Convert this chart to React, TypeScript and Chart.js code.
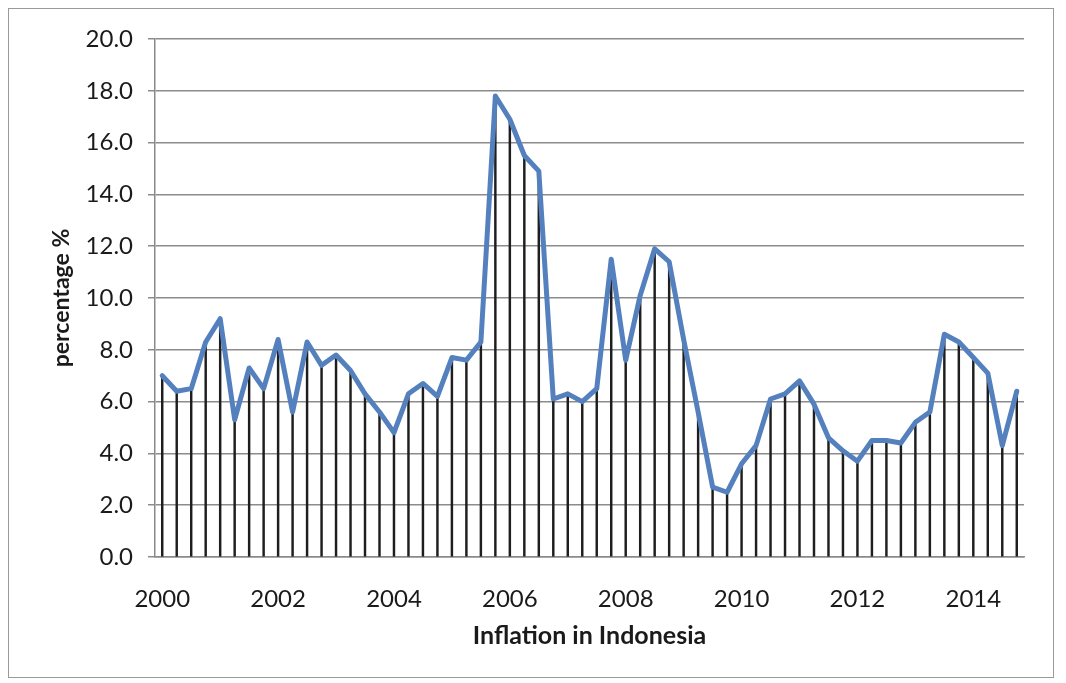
import React, { useEffect, useRef } from 'react';
import { Chart, registerables } from 'chart.js';

Chart.register(...registerables);

const years = ['2000', '2001', '2002', '2003', '2004', '2005', '2006', '2007', '2008', '2009', '2010', '2011', '2012', '2013', '2014'];
const quarterNames = ['Q1', 'Q2', 'Q3', 'Q4'];
const categories = years.flatMap((y) => quarterNames.map((q) => `${y} ${q}`));
const xTickLabels = ['2000', '2002', '2004', '2006', '2008', '2010', '2012', '2014'];

const inflation = [
  7.0, 6.4, 6.5, 8.3, 9.2, 5.3, 7.3, 6.5, 8.4, 5.6,
  8.3, 7.4, 7.8, 7.2, 6.3, 5.6, 4.8, 6.3, 6.7, 6.2,
  7.7, 7.6, 8.3, 17.8, 16.9, 15.5, 14.9, 6.1, 6.3, 6.0,
  6.5, 11.5, 7.6, 10.1, 11.9, 11.4, 8.4, 5.6, 2.7, 2.5,
  3.6, 4.3, 6.1, 6.3, 6.8, 5.9, 4.6, 4.1, 3.7, 4.5,
  4.5, 4.4, 5.2, 5.6, 8.6, 8.3, 7.7, 7.1, 4.3, 6.4,
];

const yMin = 0;
const yMax = 20;
const yStep = 2;

const xTitle = 'Inflation in Indonesia';
const yTitle = 'percentage %';

export default function App() {
  const canvasRef = useRef<HTMLCanvasElement | null>(null);

  useEffect(() => {
    const canvas = canvasRef.current;
    if (!canvas) return;
    const chart = new Chart(canvas, {
      type: 'line',
      data: {
        labels: categories,
        datasets: [
          {
            type: 'line',
            label: 'Inflation',
            data: inflation,
            borderColor: '#5580be',
            borderWidth: 5,
            pointRadius: 0,
            tension: 0,
            borderJoinStyle: 'round',
            borderCapStyle: 'round',
            order: 0,
          },
          {
            type: 'bar',
            label: 'drop',
            data: inflation,
            backgroundColor: '#1e1e1e',
            borderWidth: 0,
            barThickness: 1.8,
            order: 1,
          },
        ],
      },
      options: {
        responsive: false,
        animation: false,
        layout: { padding: { top: 30, right: 29, bottom: 0, left: 0 } },
        plugins: {
          legend: { display: false },
          tooltip: { enabled: false },
        },
        scales: {
          x: {
            type: 'category',
            offset: true,
            grid: { display: false, drawTicks: false },
            border: { display: true, color: '#8a8a8a', width: 1.5 },
            ticks: {
              autoSkip: false,
              maxRotation: 0,
              padding: 28,
              color: '#1a1a1a',
              font: { family: 'Lato', size: 24 },
              callback: (_v: any, i: number) => {
                const y = categories[i].slice(0, 4);
                return i % 4 === 0 && xTickLabels.includes(y) ? y : '';
              },
            },
            title: {
              display: true,
              text: xTitle,
              color: '#1a1a1a',
              font: { family: 'Lato', size: 25, weight: 'bold' },
              padding: { top: 0, bottom: 26 },
            },
            afterFit: (scale: any) => {
              scale.height = 120;
            },
          },
          y: {
            min: yMin,
            max: yMax,
            grid: { color: '#8c8c8c', lineWidth: 1.5, tickLength: 7 },
            border: { display: true, color: '#8a8a8a', width: 1.5 },
            ticks: {
              stepSize: yStep,
              padding: 15,
              color: '#1a1a1a',
              font: { family: 'Lato', size: 24 },
              callback: (v: any) => Number(v).toFixed(1),
            },
            title: {
              display: true,
              text: yTitle,
              color: '#1a1a1a',
              font: { family: 'Lato', size: 23, weight: 'bold' },
              padding: { top: 39, bottom: 0 },
            },
            afterFit: (scale: any) => {
              scale.width = 146;
            },
          },
        },
      },
    });
    return () => chart.destroy();
  }, []);

  return (
    <div style={{ width: 1044, height: 668, border: '1px solid #9a9a9a', background: '#fff' }}>
      <canvas ref={canvasRef} width={1044} height={668} />
    </div>
  );
}
